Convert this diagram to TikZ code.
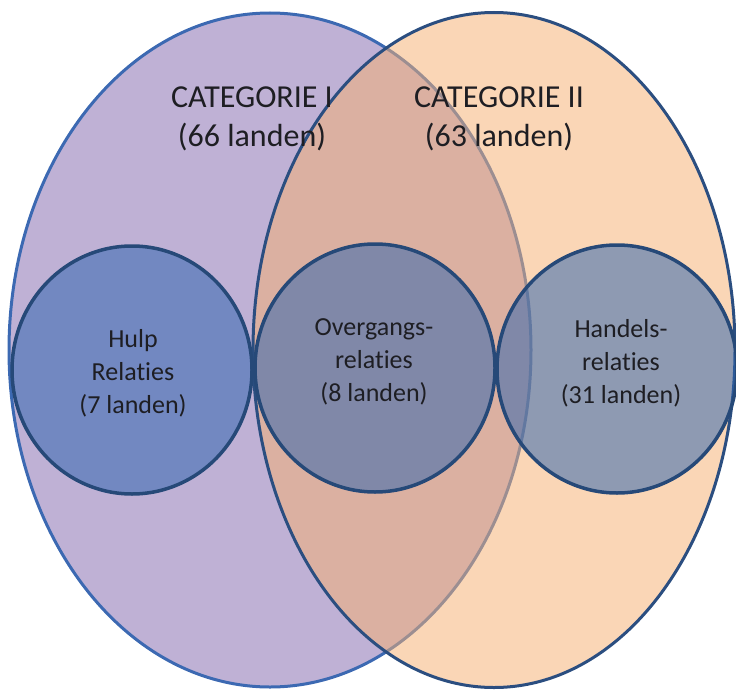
\documentclass[tikz,border=0pt]{standalone}
\usepackage{fontspec}
\setmainfont{Carlito}[Ligatures={NoCommon}]
\usetikzlibrary{shapes.geometric}
\definecolor{purplefill}{RGB}{191,177,213}
\definecolor{bluerim}{RGB}{60,105,178}
\definecolor{peachfill}{RGB}{245,176,115}
\definecolor{navyrim}{RGB}{43,78,128}
\definecolor{circfill}{RGB}{45,100,175}
\definecolor{circrim}{RGB}{38,73,120}
\definecolor{txt}{RGB}{30,30,35}
\tikzset{
  bigset/.style={ellipse, inner sep=0pt, line width=3pt, minimum width=#1},
  subset/.style={ellipse, inner sep=0pt, line width=3.5pt, draw=circrim,
    fill=circfill, fill opacity=0.52, draw opacity=1,
    minimum width=240pt, minimum height=248pt},
  headtxt/.style={text=txt, align=center, font=\fontsize{32}{39}\selectfont},
  subtxt/.style={text=txt, align=center, font=\fontsize{26}{33}\selectfont},
}
\begin{document}
\begin{tikzpicture}[x=1pt,y=-1pt]
\useasboundingbox (0,0) rectangle (736,690);
\node[bigset=522pt, minimum height=674pt, fill=purplefill, draw=bluerim] (catI) at (270,350) {};
\node[bigset=482pt, minimum height=675pt, fill=peachfill, fill opacity=0.52, draw=navyrim, draw opacity=1] (catII) at (494,350) {};
\node[subset] (hulp) at (132,370) {};
\node[subset] (overg) at (375,368) {};
\node[subset] (handel) at (617,369) {};
\node[headtxt] (tI) at (252,119) {CATEGORIE I\\(66 landen)};
\node[headtxt] (tII) at (499,119) {CATEGORIE II\\(63 landen)};
\node[subtxt] (lhulp) at (133,373) {Hulp\\Relaties\\(7 landen)};
\node[subtxt] (lovg) at (374,362) {Overgangs-\\relaties\\(8 landen)};
\node[subtxt] (lhan) at (621,363) {Handels-\\relaties\\(31 landen)};
\end{tikzpicture}
\end{document}
